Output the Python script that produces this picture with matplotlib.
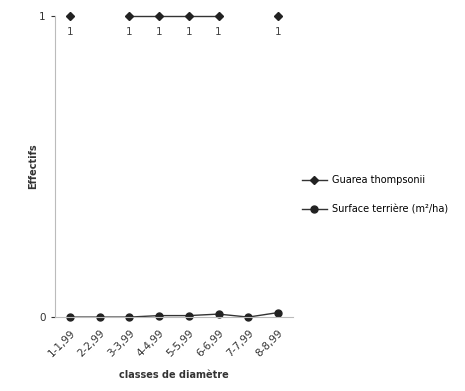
import matplotlib.pyplot as plt
import numpy as np

classes = ['1-1,99', '2-2,99', '3-3,99', '4-4,99', '5-5,99', '6-6,99', '7-7,99', '8-8,99']
guarea = [1, np.nan, 1, 1, 1, 1, np.nan, 1]
surface = [0.0, 0.0, 0.0, 0.005, 0.005, 0.01, 0.0, 0.015]

fig = plt.figure(figsize=(4.65, 3.91), dpi=100)
ax = fig.add_axes([0.118, 0.189, 0.512, 0.770])

x = np.arange(len(classes))
ax.plot(x, guarea, color='#333333', lw=1, marker='D', ms=4, mfc='#222222', mec='#222222',
        clip_on=False, label='Guarea thompsonii')
ax.plot(x, surface, color='#333333', lw=1, marker='o', ms=5, mfc='#222222', mec='#222222',
        clip_on=False, label='Surface terrière (m²/ha)')

for xi, v in zip(x, guarea):
    if not np.isnan(v):
        ax.annotate('1', (xi, v), xytext=(0, -14), textcoords='offset points',
                    ha='center', fontsize=7.5, color='#444444')

ax.set_xlim(-0.5, len(classes) - 0.5)
ax.set_ylim(0, 1)
ax.set_yticks([0, 1])
ax.set_xticks(x)
ax.set_xticklabels(classes, rotation=45, ha='right', rotation_mode='anchor', fontsize=7.5, color='#333333')
ax.tick_params(axis='y', labelsize=7.5, colors='#333333', length=3)
ax.tick_params(axis='x', length=0, pad=8)
ax.set_xlabel('classes de diamètre', fontsize=7, fontweight='bold', color='#333333', labelpad=8)
ax.set_ylabel('Effectifs', fontsize=7, fontweight='bold', color='#333333', labelpad=1)
for s in ['top', 'right']:
    ax.spines[s].set_visible(False)
for s in ['left', 'bottom']:
    ax.spines[s].set_color('#bbbbbb')
    ax.spines[s].set_linewidth(0.8)

ax.legend(loc='center left', bbox_to_anchor=(1.0, 0.405), frameon=False, fontsize=7,
          labelspacing=2.0, handlelength=2.6, handletextpad=0.5)

fig.savefig('out.png', dpi=100)
